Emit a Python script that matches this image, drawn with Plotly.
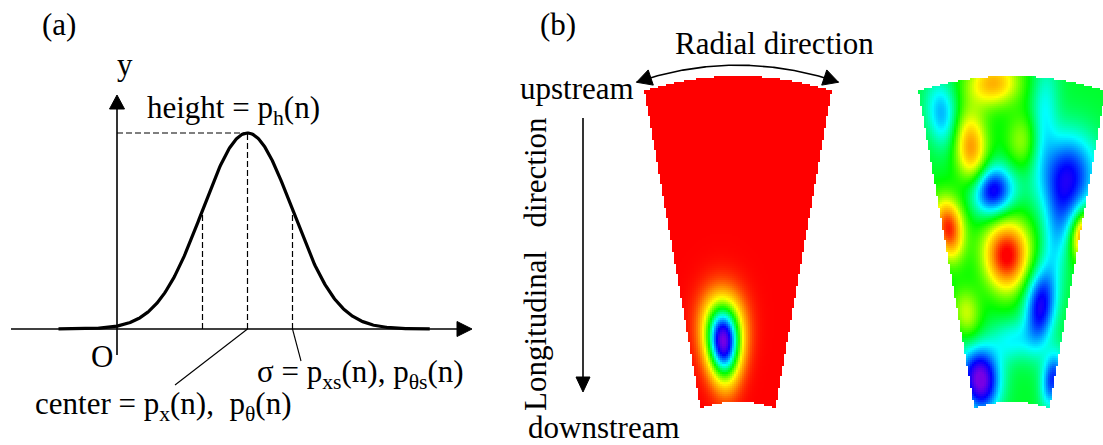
import numpy as np
import plotly.graph_objects as go

W, H = 1103, 445

# ---------------- data ----------------
# (a) one Gaussian element: x in units of sigma, y in units of the peak height
gauss_height = 1.0      # p_h(n)
gauss_center = 2.9      # p_x(n), p_theta(n)
gauss_sigma = 1.0       # p_xs(n), p_theta_s(n)
curve_start, curve_end = -1.3, 6.95

# (b) maps on the fan: t = radial position (-1..1), s = longitudinal position (0 upstream .. 1 downstream)
# left map: uniform level with a single Gaussian dip
single_level = 1.0
single_t, single_s = -0.30, 0.81
single_wt, single_ws = 0.26, 0.085

# right map: smooth features over a mid-level background
field_base = 0.47
blob_t = [-0.78, -0.20, -0.50, 0.13, 0.72, -0.26, -0.92, 1.04, -0.08, -0.84, 0.52, -0.75, 0.96, 0.02, 0.36, 0.66]
blob_s = [0.09, 0.02, 0.21, 0.20, 0.29, 0.35, 0.44, 0.45, 0.55, 0.71, 0.70, 0.92, 0.91, 0.81, 0.10, 0.47]
blob_val = [0.25, 0.80, 0.84, 0.63, 0.12, 0.08, 0.97, 0.88, 1.02, 0.66, 0.10, -0.02, 0.15, 0.33, 0.33, 0.32]
blob_wt = [0.13, 0.20, 0.14, 0.14, 0.26, 0.20, 0.15, 0.11, 0.25, 0.18, 0.20, 0.32, 0.18, 0.30, 0.11, 0.15]
blob_ws = [0.075, 0.05, 0.08, 0.06, 0.095, 0.055, 0.065, 0.05, 0.075, 0.055, 0.085, 0.07, 0.06, 0.045, 0.12, 0.10]

# ---------------- layout constants ----------------
FONT = "Liberation Serif, Times New Roman, serif"
FS = 31
INK = "black"

# panel (a) placement: pixel of the origin and pixels per data unit
A_X0, A_Y0, A_SX, A_SY = 117, 329, 45, 196

# fan geometry (pixels): apex y, vertical stretch, half angle, outer / inner radius, apex x per map
FAN_CY, FAN_K, FAN_PHI = 620.3, 1.354, np.radians(13.45)
FAN_ROUT, FAN_RIN = 402.0, 161.2
FAN_CX = [737.5, 1012.0]

RAINBOW = [[0.0, "#7800e4"], [0.12, "#0000ff"], [0.32, "#00ffff"], [0.5, "#00ff00"],
           [0.7, "#ffff00"], [0.85, "#ff8c00"], [1.0, "#ff0000"]]


def a_px(x, y):
    return A_X0 + A_SX * x, A_Y0 - A_SY * y


def a_data(px, py):
    return (px - A_X0) / A_SX, (A_Y0 - py) / A_SY


def fan_xy(cx, t, r):
    th = t * FAN_PHI
    return cx + r * np.sin(th), FAN_CY - FAN_K * r * np.cos(th)


def fan_ts(cx, X, Y):
    dx = X - cx
    dy = (FAN_CY - Y) / FAN_K
    r = np.hypot(dx, dy)
    t = np.arctan2(dx, dy) / FAN_PHI
    s = (FAN_ROUT - r) / (FAN_ROUT - FAN_RIN)
    return t, s


def gauss2(t, s, t0, s0, wt, ws):
    return np.exp(-0.5 * ((t - t0) / wt) ** 2 - 0.5 * ((s - s0) / ws) ** 2)


def head(tip, d, length, half):
    d = np.asarray(d, float)
    d = d / np.hypot(*d)
    n = np.array([-d[1], d[0]])
    tip = np.asarray(tip, float)
    base = tip - d * length
    p1, p2 = base + n * half, base - n * half
    return [tip[0], p1[0], p2[0], tip[0]], [tip[1], p1[1], p2[1], tip[1]]


fig = go.Figure()

# ---------------- panel (b) maps ----------------
CELL = 2
for k, cx in enumerate(FAN_CX):
    xs = np.arange(cx - 104, cx + 104, CELL) + CELL / 2
    ys = np.arange(60, 414, CELL) + CELL / 2
    X, Y = np.meshgrid(xs, ys)
    t, s = fan_ts(cx, X, Y)
    inside = (np.abs(t) <= 1) & (s >= 0) & (s <= 1)
    if k == 0:
        Z = single_level - single_level * gauss2(t, s, single_t, single_s, single_wt, single_ws)
    else:
        Z = np.full_like(t, field_base)
        for bt, bs, bv, wt, ws in zip(blob_t, blob_s, blob_val, blob_wt, blob_ws):
            Z = Z + (bv - field_base) * gauss2(t, s, bt, bs, wt, ws)
        Z = np.clip(Z, 0, 1)
    Z = np.where(inside, Z, np.nan)
    fig.add_trace(go.Heatmap(x=xs, y=ys, z=Z, zmin=0, zmax=1, colorscale=RAINBOW,
                             showscale=False, zsmooth=False, hoverinfo="skip",
                             xaxis="x2", yaxis="y2"))

# ---------------- panel (a) ----------------
line_kw = dict(mode="lines", hoverinfo="skip", showlegend=False)

# coordinate axes
x_axis_from, _ = a_data(11, 0)
x_axis_tip, _ = a_data(472, 0)
_, y_axis_from = a_data(0, 355)
_, y_axis_tip = a_data(0, 95)
fig.add_trace(go.Scatter(x=[x_axis_from, x_axis_tip - 12 / A_SX], y=[0, 0],
                         line=dict(color=INK, width=1.6), **line_kw))
fig.add_trace(go.Scatter(x=[0, 0], y=[y_axis_from, y_axis_tip - 10 / A_SY],
                         line=dict(color=INK, width=1.6), **line_kw))

# dashed guides
xl, xr = gauss_center - gauss_sigma, gauss_center + gauss_sigma
g = lambda x: gauss_height * np.exp(-0.5 * ((x - gauss_center) / gauss_sigma) ** 2)
dash_kw = dict(color=INK, width=1.2, dash="6px,3px")
fig.add_trace(go.Scatter(x=[0, gauss_center], y=[gauss_height, gauss_height], line=dash_kw, **line_kw))
fig.add_trace(go.Scatter(x=[gauss_center, gauss_center], y=[0, gauss_height], line=dash_kw, **line_kw))
fig.add_trace(go.Scatter(x=[xl, xl], y=[0, g(xl)], line=dash_kw, **line_kw))
fig.add_trace(go.Scatter(x=[xr, xr], y=[0, g(xr)], line=dash_kw, **line_kw))

# Gaussian curve
xx = np.linspace(curve_start, curve_end, 400)
fig.add_trace(go.Scatter(x=xx, y=g(xx), line=dict(color=INK, width=3.2), **line_kw))

# leader lines to the labels
cx_l, cy_l = a_data(175, 385)
sx_l, sy_l = a_data(301, 361)
fig.add_trace(go.Scatter(x=[gauss_center, cx_l], y=[0, cy_l], line=dict(color=INK, width=1.1), **line_kw))
fig.add_trace(go.Scatter(x=[xr, sx_l], y=[0, sy_l], line=dict(color=INK, width=1.1), **line_kw))

# arrow heads (pixel space)
heads = []
heads.append(head(a_px(x_axis_tip, 0), (1, 0), 15, 7.5))
heads.append(head(a_px(0, y_axis_tip), (0, -1), 14, 7.5))

# ---------------- panel (b) arrows ----------------
arc_r, arc_t = 410.0, 1.06
ta = np.linspace(-arc_t, arc_t, 200)
ax_, ay_ = fan_xy(FAN_CX[0], ta, arc_r)
fig.add_trace(go.Scatter(x=ax_, y=ay_, xaxis="x2", yaxis="y2",
                         line=dict(color=INK, width=1.6), **line_kw))
for end, inner in ((0, 6), (-1, -7)):
    tip = (ax_[end], ay_[end])
    heads.append(head(tip, (ax_[end] - ax_[inner], ay_[end] - ay_[inner]), 15, 8))

# longitudinal arrow
LX, LTOP, LTIP = 583, 118, 392
fig.add_trace(go.Scatter(x=[LX, LX], y=[LTOP, LTIP - 12], xaxis="x2", yaxis="y2",
                         line=dict(color=INK, width=1.6), **line_kw))
heads.append(head((LX, LTIP), (0, 1), 15, 7))

for hx, hy in heads:
    fig.add_trace(go.Scatter(x=hx, y=hy, xaxis="x2", yaxis="y2", fill="toself",
                             fillcolor=INK, line=dict(color=INK, width=1), **line_kw))

# ---------------- text ----------------
def label(text, x, y, xanchor="left", angle=0):
    fig.add_annotation(text=text, x=x, y=y, xref="x2", yref="y2", xanchor=xanchor,
                       yanchor="middle", showarrow=False, textangle=angle,
                       font=dict(family=FONT, size=FS, color=INK))

label("(a)", 59, 24, "center")
label("y", 125, 64, "center")
label("height = p<sub>h</sub>(n)", 145, 110)
label("O", 102, 356, "center")
label("\u03c3 = p<sub>xs</sub>(n), p<sub>\u03b8s</sub>(n)", 255, 374)
label("center = p<sub>x</sub>(n), \u00a0p<sub>\u03b8</sub>(n)", 33, 406)
label("(b)", 558, 24, "center")
label("Radial direction", 673, 43)
label("upstream", 518, 88)
label("downstream", 526, 427)
label("Longitudinal\u00a0\u00a0 direction", 535, 264, "center", -90)

fig.update_layout(
    width=W, height=H, margin=dict(l=0, r=0, t=0, b=0),
    paper_bgcolor="white", plot_bgcolor="white", showlegend=False,
    xaxis=dict(range=[(0 - A_X0) / A_SX, (W - A_X0) / A_SX], visible=False, fixedrange=True),
    yaxis=dict(range=[(A_Y0 - H) / A_SY, A_Y0 / A_SY], visible=False, fixedrange=True),
    xaxis2=dict(overlaying="x", range=[0, W], visible=False, fixedrange=True),
    yaxis2=dict(overlaying="y", range=[H, 0], visible=False, fixedrange=True),
)

fig.write_html("out.html", config={"displayModeBar": False})
